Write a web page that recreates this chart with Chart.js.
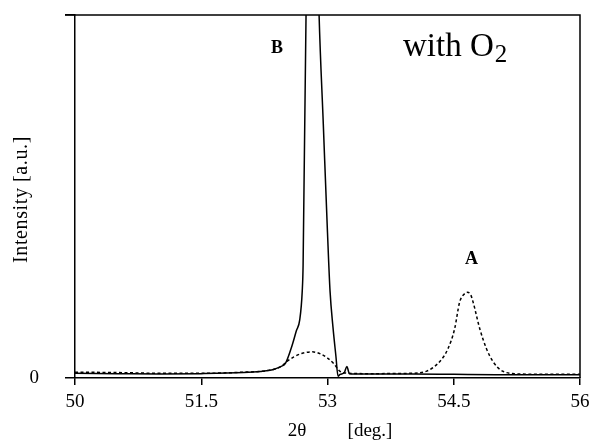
<!DOCTYPE html>
<html>
<head>
<meta charset="utf-8">
<script src="https://cdn.jsdelivr.net/npm/chart.js@4/dist/chart.umd.min.js"></script>
<style>
  html, body { margin:0; padding:0; background:#fff; }
  #wrap { width:593px; height:442px; position:relative; }
</style>
</head>
<body>
<div id="wrap"><canvas id="c"></canvas></div>
<script>
const FONT = "'Liberation Serif', 'DejaVu Serif', serif";

// curve B (solid) : 2θ in deg, intensity a.u. (peak runs off the top)
const solidX = [50, 50.5, 51, 51.5, 52, 52.2, 52.35, 52.45, 52.5, 52.58, 52.63, 52.67, 52.7, 52.71, 52.745, 52.76,
                52.89, 52.9, 52.95, 53.0, 53.03, 53.065, 53.1, 53.125, 53.15, 53.2, 53.23, 53.26, 53.4, 54, 54.5, 55, 56];
const solidY = [1.3, 1.2, 1.1, 1.2, 1.5, 1.8, 2.3, 3.2, 4, 9, 13, 16, 24, 31, 100, 110,
                110, 100, 70, 40, 24, 14, 6, 0.5, 1, 1.5, 3.2, 1.2, 1.1, 1.1, 1.0, 0.9, 0.9];

// curve A (dashed)
const dashX = [50, 50.5, 51, 51.5, 52, 52.3, 52.45, 52.52, 52.6, 52.7, 52.82, 52.92, 53.0, 53.08, 53.14, 53.2, 53.5,
               54, 54.18, 54.34, 54.43, 54.51, 54.57, 54.62, 54.66, 54.7, 54.73, 54.81, 54.89, 54.97, 55.08, 55.29, 55.6, 56];
const dashY = [1.6, 1.5, 1.3, 1.3, 1.6, 2.1, 3.2, 4.6, 5.8, 6.8, 7.2, 6.6, 5.5, 3.8, 2, 1.4, 1.2,
               1.3, 1.9, 4.7, 8, 13.5, 20.9, 23, 23.6, 23, 20.9, 13.5, 8, 4.4, 1.9, 1.1, 1.0, 1.0];

const xTicks = [50, 51.5, 53, 54.5, 56];
const yTicks = [0, 100];
const yTickLabels = ['0', ''];

const pts = (xs, ys) => xs.map((x, i) => ({x, y: ys[i]}));

const frame = {
  id: 'frame',
  afterDraw(chart) {
    const {ctx, chartArea: a} = chart;
    const xs = chart.scales.x;
    ctx.save();
    ctx.strokeStyle = '#000';
    ctx.lineWidth = 1.5;
    ctx.beginPath();
    ctx.moveTo(a.left - 10, a.top); ctx.lineTo(a.right, a.top); ctx.lineTo(a.right, a.bottom);
    ctx.stroke();
    ctx.fillStyle = '#000';
    ctx.textAlign = 'center';
    ctx.textBaseline = 'alphabetic';
    ctx.font = `bold 18px ${FONT}`;
    ctx.fillText('B', xs.getPixelForValue(52.4), 53);
    ctx.fillText('A', xs.getPixelForValue(54.71), 264);
    ctx.textAlign = 'left';
    ctx.font = `33px ${FONT}`;
    ctx.fillText('with O', 403, 56);
    const w = ctx.measureText('with O').width;
    ctx.font = `25px ${FONT}`;
    ctx.fillText('2', 403 + w + 1, 62);
    ctx.textAlign = 'center';
    ctx.font = `19px ${FONT}`;
    ctx.fillText('2θ', 297, 436);
    ctx.fillText('[deg.]', 370, 436);
    // y title
    ctx.translate(22, (a.top + a.bottom) / 2 + 3);
    ctx.rotate(-Math.PI / 2);
    ctx.textBaseline = 'middle';
    ctx.letterSpacing = '0.6px';
    ctx.font = `20px ${FONT}`;
    ctx.fillText('Intensity [a.u.]', 0, 0);
    ctx.restore();
  }
};

new Chart(document.getElementById('c'), {
  type: 'line',
  data: {
    datasets: [
      { data: pts(solidX, solidY), borderColor: '#000', borderWidth: 1.5, pointRadius: 0,
        cubicInterpolationMode: 'monotone' },
      { data: pts(dashX, dashY), borderColor: '#000', borderWidth: 1.5, pointRadius: 0,
        borderDash: [3, 2.5], cubicInterpolationMode: 'monotone' }
    ]
  },
  options: {
    responsive: true, maintainAspectRatio: false, animation: false,
    layout: { padding: { top: 15, right: 13, left: 0, bottom: 0 } },
    plugins: { legend: { display: false }, tooltip: { enabled: false } },
    scales: {
      x: {
        type: 'linear', min: 50, max: 56,
        afterBuildTicks: s => { s.ticks = xTicks.map(v => ({value: v})); },
        afterFit: s => { s.height = 64; s.paddingLeft = 0; s.paddingRight = 0; },
        grid: { drawOnChartArea: false, drawTicks: true, tickLength: 7, color: '#000', lineWidth: 1.5 },
        border: { display: true, color: '#000', width: 1.5 },
        ticks: { color: '#000', font: { family: FONT, size: 19 }, padding: 6, maxRotation: 0,
                 callback: v => String(v) }
      },
      y: {
        min: 0, max: 100,
        afterBuildTicks: s => { s.ticks = yTicks.map(v => ({value: v})); },
        afterFit: s => { s.width = 75; s.paddingTop = 0; s.paddingBottom = 0; },
        grid: { drawOnChartArea: false, drawTicks: true, tickLength: 10, color: '#000', lineWidth: 1.5 },
        border: { display: true, color: '#000', width: 1.5 },
        ticks: { color: '#000', font: { family: FONT, size: 19 }, padding: 26,
                 callback: (v, i) => yTickLabels[i] }
      }
    }
  },
  plugins: [frame]
});
</script>
</body>
</html>
